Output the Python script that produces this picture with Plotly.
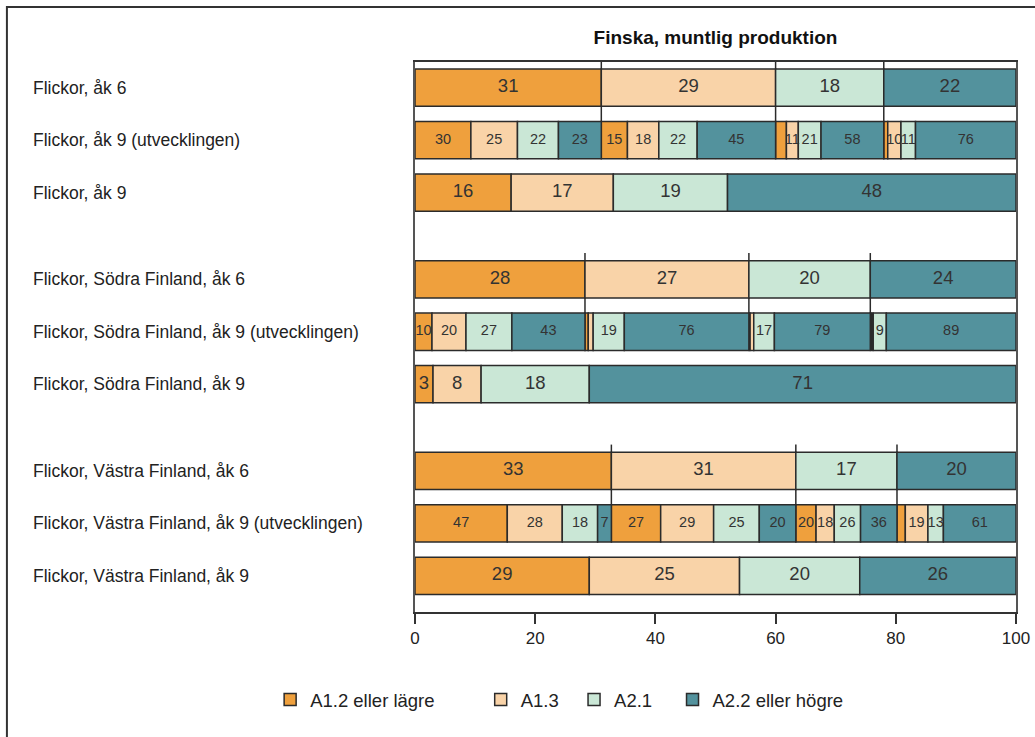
import plotly.graph_objects as go

# levels and colours
categories = ['A1.2 eller lägre', 'A1.3', 'A2.1', 'A2.2 eller högre']
colors = ['#EFA03D', '#F9D3A8', '#CAE7D6', '#53929D']

row_labels = ['Flickor, åk 6',
              'Flickor, åk 9 (utvecklingen)',
              'Flickor, åk 9',
              'Flickor, Södra Finland, åk 6',
              'Flickor, Södra Finland, åk 9 (utvecklingen)',
              'Flickor, Södra Finland, åk 9',
              'Flickor, Västra Finland, åk 6',
              'Flickor, Västra Finland, åk 9 (utvecklingen)',
              'Flickor, Västra Finland, åk 9']
row_pos = [0, 1, 2, 3.65, 4.65, 5.65, 7.3, 8.3, 9.3]

# percent per level; "utv" = åk 9 distribution within each åk 6 level
flickor_ak6 = [31, 29, 18, 22]
flickor_utv = [[30, 25, 22, 23], [15, 18, 22, 45], [10, 11, 21, 58], [3, 10, 11, 76]]
flickor_ak9 = [16, 17, 19, 48]

sodra_ak6 = [28, 27, 20, 24]
sodra_utv = [[10, 20, 27, 43], [2, 3, 19, 76], [1, 3, 17, 79], [1, 1, 9, 89]]
sodra_ak9 = [3, 8, 18, 71]

vastra_ak6 = [33, 31, 17, 20]
vastra_utv = [[47, 28, 18, 7], [27, 29, 25, 20], [20, 18, 26, 36], [7, 19, 13, 61]]
vastra_ak9 = [29, 25, 20, 26]

groups = [(flickor_ak6, flickor_utv, flickor_ak9),
          (sodra_ak6, sodra_utv, sodra_ak9),
          (vastra_ak6, vastra_utv, vastra_ak9)]

FONT = 'Liberation Sans Narrow, Liberation Sans, Arial, sans-serif'
NB = '\u00a0'

bars = {c: dict(y=[], x=[], base=[]) for c in range(4)}
lab_x, lab_y, lab_t, lab_s = [], [], [], []
seps = []


def add_seg(c, y, base, w, val, size):
    bars[c]['y'].append(y)
    bars[c]['x'].append(w)
    bars[c]['base'].append(base)
    if w >= 1.9:
        lab_x.append(base + w / 2)
        lab_y.append(y)
        lab_t.append(str(val))
        lab_s.append(size)


def add_row(vals, y, start=0.0, total=100.0, size=18.5):
    s = sum(vals)
    b = start
    edges = []
    for c, v in enumerate(vals):
        w = total * v / s
        add_seg(c, y, b, w, v, size)
        b += w
        edges.append(b)
    return edges


for gi, (ak6, utv, ak9) in enumerate(groups):
    r6, ru, r9 = row_pos[gi * 3:gi * 3 + 3]
    edges = add_row(ak6, r6)
    starts = [0.0] + edges[:-1]
    for g in range(4):
        add_row(utv[g], ru, starts[g], edges[g] - starts[g], size=14.5)
    add_row(ak9, r9)
    for e in edges[:-1]:
        seps.append((e, r6 - 0.5, ru))

# padding so the legend entries sit apart like in the original
legend_pad = [8, 2, 3, 0]

fig = go.Figure()
for c in range(4):
    fig.add_trace(go.Bar(y=bars[c]['y'], x=bars[c]['x'], base=bars[c]['base'],
                         orientation='h', width=0.71, name=categories[c] + NB * legend_pad[c],
                         marker=dict(color=colors[c], line=dict(color='#2b2b2b', width=1.5)),
                         hoverinfo='skip'))
fig.add_trace(go.Scatter(x=lab_x, y=lab_y, text=lab_t, mode='text', showlegend=False,
                         textfont=dict(size=lab_s, color='#333333', family=FONT),
                         hoverinfo='skip', cliponaxis=False))

for x, y0, y1 in seps:
    fig.add_shape(type='line', xref='x', yref='y', x0=x, x1=x, y0=y0, y1=y1,
                  line=dict(color='#2b2b2b', width=1.5), layer='below')

for lab, y in zip(row_labels, row_pos):
    fig.add_annotation(text=lab, xref='paper', yref='y', x=-0.639, y=y, xanchor='left',
                       showarrow=False, font=dict(size=17.5, color='#222222', family=FONT))

# outer frame of the figure
fig.add_shape(type='rect', xref='paper', yref='paper', x0=-0.679, x1=1.06, y0=-0.25, y1=1.1,
              line=dict(color='#333333', width=2), fillcolor='rgba(0,0,0,0)')

fig.update_layout(
    width=1035, height=737,
    barmode='overlay',
    margin=dict(l=415, r=19, t=62, b=125),
    paper_bgcolor='white', plot_bgcolor='white',
    title=dict(text='<b>Finska, muntlig produktion</b>', x=0.5, xref='paper',
               y=1 - 37 / 737, yanchor='middle',
               font=dict(size=19, color='#111111', family=FONT)),
    font=dict(family=FONT, size=16, color='#222222'),
    xaxis=dict(range=[0, 100], tickvals=[0, 20, 40, 60, 80, 100], ticks='outside',
               ticklen=10, tickwidth=1.5, tickcolor='#333333', showline=True, linewidth=1.5,
               linecolor='#333333', mirror=True, showgrid=False, zeroline=False,
               automargin=False, tickfont=dict(size=17, family=FONT)),
    yaxis=dict(range=[9.99, -0.49], showticklabels=False, showgrid=False, zeroline=False,
               automargin=False, showline=True, linewidth=1.5, linecolor='#555555', mirror=True),
    legend=dict(orientation='h', xref='container', yref='container', x=0.261, xanchor='left',
                y=1 - 700 / 737, yanchor='middle',
                font=dict(size=18.5, family=FONT), traceorder='normal'),
    showlegend=True,
)

# drop the default page margin so the figure fills the window exactly
fig.write_html("out.html", post_script="document.body.style.margin='0';",
               config={'displayModeBar': False})
